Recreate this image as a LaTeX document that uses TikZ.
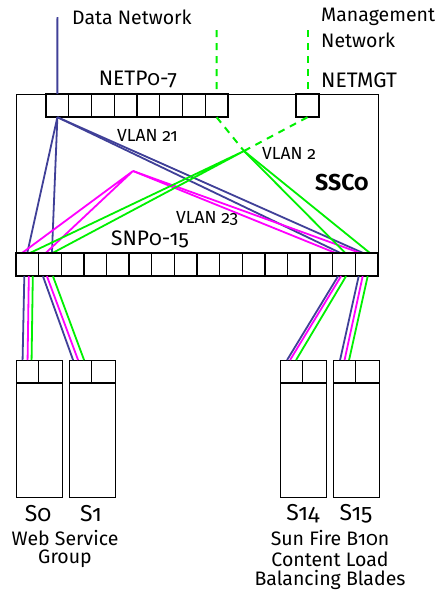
\documentclass[tikz,border=0pt]{standalone}
\usepackage{fontspec}
\setmainfont{Fira Sans}[Numbers=OldStyle]
\definecolor{vblue}{RGB}{64,64,152}
\definecolor{vgreen}{RGB}{0,240,0}
\definecolor{vmag}{RGB}{255,0,255}
\begin{document}
\begin{tikzpicture}[x=1pt,y=-1pt,
  frame/.style={draw=black,line width=1.4pt,fill=white,inner sep=0pt},
  gridline/.style={draw=black,line width=1.4pt},
  port/.style={inner sep=0pt,minimum height=23pt},
  lb/.style={font=\fontsize{19.5}{22}\selectfont,inner sep=0pt},
  big/.style={font=\fontsize{21}{24}\selectfont,inner sep=0pt},
  sm/.style={font=\fontsize{17.5}{20}\selectfont,inner sep=0pt},
  bl/.style={draw=vblue,line width=1.8pt},
  mg/.style={draw=vmag,line width=1.8pt},
  gr/.style={draw=vgreen,line width=1.8pt},
  gd/.style={draw=vgreen,line width=2pt,dash pattern=on 7pt off 6pt}]
\useasboundingbox (0,0) rectangle (439,592);
% switch
\node[frame,minimum width=362pt,minimum height=182pt,anchor=north west] (ssc) at (16,94) {};
% data / management
\coordinate (dtop) at (57.4,17);
\coordinate (m1top) at (216.6,30);
\coordinate (m2top) at (307.5,30);
% NETP ports
\foreach \i in {0,...,7}
  \node[port,minimum width=22.75pt] (n\i) at ({46+22.75*(\i+0.5)},105.5) {};
\node[port,minimum width=23pt] (mgt) at (307.5,105.5) {};
\draw[gridline,fill=white] (46,94) rectangle (228,117);
\foreach \i in {1,...,7} \draw[gridline] ({46+22.75*\i},94) -- ({46+22.75*\i},117);
\draw[gridline,fill=white] (296,94) rectangle (319,117);
% SNP ports
\foreach \i in {0,...,15}
  \node[port,minimum width=22.625pt] (s\i) at ({16+22.625*(\i+0.5)},264.5) {};
% hubs
\coordinate (hm) at (133,171);
\coordinate (hg) at (244,151);
% external lines
\draw[bl] (dtop) -- (n0.north);
\draw[gd] (m1top) -- (n7.north);
\draw[gd] (m2top) -- (mgt.north);
% inside dashed
\draw[gd] (n7.south) -- (hg);
\draw[gd] (mgt.south) -- (hg);
% VLAN 21 blue
\draw[bl] (n0.south) -- (s0.north);
\draw[bl] (n0.south) -- ([xshift=2pt]s1.north);
\draw[bl] (n0.south) -- ([xshift=-4pt]s14.north);
\draw[bl] (n0.south) -- ([xshift=-4pt]s15.north);
% VLAN 23 magenta
\draw[mg] ([xshift=-5pt]s0.north) -- (hm) -- ([xshift=-4pt]s1.north);
\draw[mg] (hm) -- ([xshift=-9pt]s14.north);
\draw[mg] (hm) -- ([xshift=-7pt]s15.north);
% VLAN 2 green
\draw[gr] ([xshift=3pt]s0.north) -- (hg) -- ([xshift=3pt]s1.north);
\draw[gr] (hg) -- ([xshift=1pt]s14.north);
\draw[gr] (hg) -- ([xshift=3pt]s15.north);
% SNP grid on top of the line ends
\draw[gridline,fill=white] (16,253) rectangle (378,276);
\foreach \i in {1,...,15} \draw[gridline] ({16+22.625*\i},253) -- ({16+22.625*\i},276);
% servers
\foreach \n/\x in {a/16,b/69,c/280,d/333}{
  \node[frame,minimum width=45.5pt,minimum height=137pt,anchor=north west] (srv\n) at (\x,360) {};
  \node[port,minimum width=22.75pt,anchor=north west] (p\n0) at (\x,360) {};
  \node[port,minimum width=22.75pt,anchor=north west] (p\n1) at (\x+22.75,360) {};
  \draw[gridline] (\x,383) -- (\x+45.5,383);
  \draw[gridline] (\x+22.75,360) -- (\x+22.75,383);
}
% downlinks
\draw[bl] ([xshift=-3pt]s0.south) -- ([xshift=-5pt]pa0.north);
\draw[mg] ([xshift=1.5pt]s0.south) -- ([xshift=0pt]pa0.north);
\draw[gr] ([xshift=5.5pt]s0.south) -- ([xshift=4pt]pa0.north);
\draw[bl] ([xshift=-7pt]s1.south) -- ([xshift=-7.5pt]pb0.north);
\draw[mg] ([xshift=-3pt]s1.south) -- ([xshift=-2.5pt]pb0.north);
\draw[gr] ([xshift=3pt]s1.south) -- ([xshift=3.5pt]pb0.north);
\draw[bl] ([xshift=-6pt]s14.south) -- ([xshift=-4.5pt]pc0.north);
\draw[mg] ([xshift=-3pt]s14.south) -- ([xshift=-1.5pt]pc0.north);
\draw[gr] ([xshift=2pt]s14.south) -- ([xshift=4.5pt]pc0.north);
\draw[bl] ([xshift=-8pt]s15.south) -- ([xshift=-4.5pt]pd0.north);
\draw[mg] ([xshift=-4pt]s15.south) -- ([xshift=0pt]pd0.north);
\draw[gr] ([xshift=1pt]s15.south) -- ([xshift=4.5pt]pd0.north);
% labels
\node[lb,anchor=west] (tdata) at (72,17) {Data Network};
\node[lb,anchor=west] (tmgmt1) at (321,17) {Management};
\node[lb,anchor=west] (tmgmt2) at (321,40) {Network};
\node[big] (tnetp) at (138,80) {NETP0-7};
\node[big,anchor=west] (tnetmgt) at (321,80) {NETMGT};
\node[sm,anchor=west] (tv21) at (117,135) {VLAN 21};
\node[sm,anchor=west] (tv2) at (262,153) {VLAN 2};
\node[inner sep=0pt,font=\fontsize{23}{26}\selectfont\bfseries,anchor=west] (tssc) at (315,183) {SSC0};
\node[sm,anchor=west] (tv23) at (176,218) {VLAN 23};
\node[big] (tsnp) at (150,239) {SNP0-15};
\node[inner sep=0pt,font=\fontsize{23}{26}\selectfont] (ts0) at (38,514) {S0};
\node[inner sep=0pt,font=\fontsize{23}{26}\selectfont] (ts1) at (91,514) {S1};
\node[inner sep=0pt,font=\fontsize{23}{26}\selectfont] (ts14) at (303,514) {S14};
\node[inner sep=0pt,font=\fontsize{23}{26}\selectfont] (ts15) at (356,514) {S15};
\node[lb] (tweb1) at (65,538) {Web Service};
\node[lb] (tweb2) at (65,559) {Group};
\node[lb] (tsun1) at (330,538) {Sun Fire B10n};
\node[lb] (tsun2) at (330,559) {Content Load};
\node[lb] (tsun3) at (330,580) {Balancing Blades};
\end{tikzpicture}
\end{document}
